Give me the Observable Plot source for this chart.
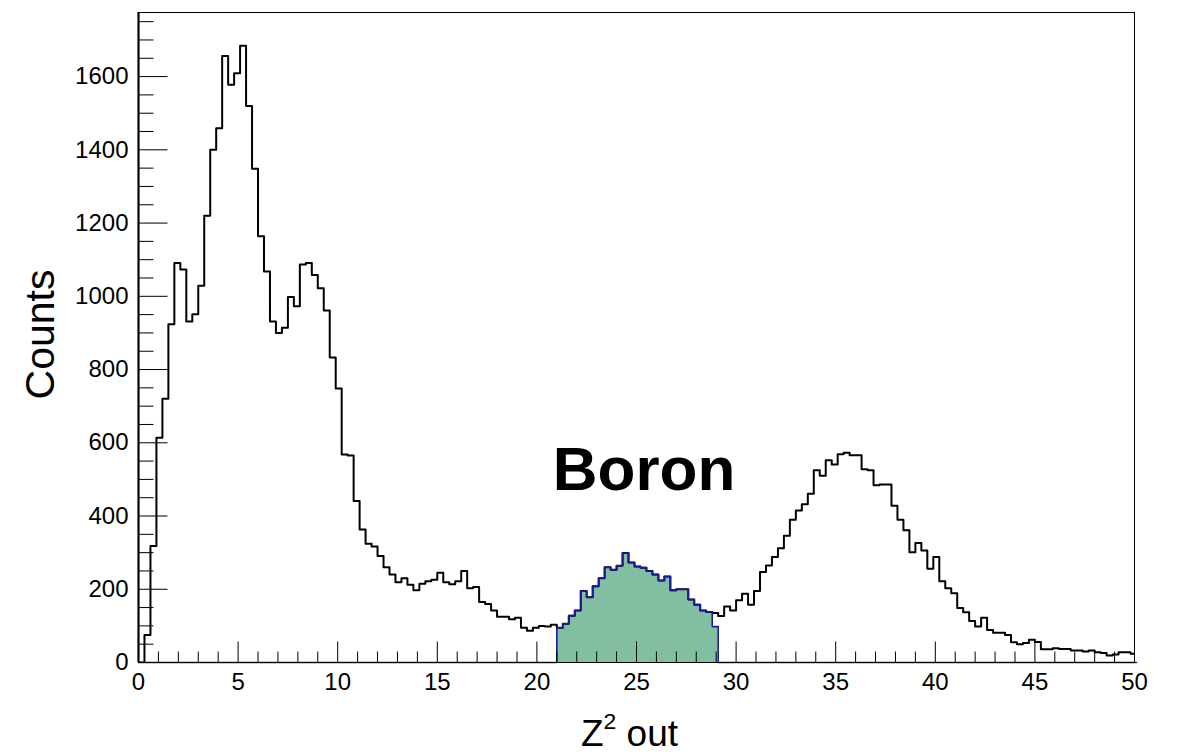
<!DOCTYPE html>
<html>
<head>
<meta charset="utf-8">
<script src="https://cdn.jsdelivr.net/npm/d3@7"></script>
<script src="https://cdn.jsdelivr.net/npm/@observablehq/plot@0.6"></script>
<style>
  html, body { margin: 0; padding: 0; background: #fff; }
  #chart { width: 1178px; height: 754px; }
</style>
</head>
<body>
<div id="chart"></div>
<script>
// Z² distribution of outgoing fragments, 0.3-wide bins starting at 0
const binWidth = 0.3;
const counts = [
  0, 75, 318, 614, 720, 924, 1091, 1073, 931, 951,
  1029, 1220, 1400, 1459, 1656, 1578, 1609, 1684, 1520, 1348,
  1164, 1068, 931, 900, 914, 998, 973, 1087, 1091, 1058,
  1022, 961, 833, 748, 568, 565, 441, 363, 324, 317,
  291, 260, 240, 219, 230, 212, 197, 215, 222, 226,
  245, 219, 214, 222, 250, 203, 206, 165, 160, 142,
  125, 125, 118, 122, 95, 87, 95, 100, 98, 103,
  95, 106, 128, 142, 195, 178, 208, 230, 260, 253,
  264, 299, 273, 262, 259, 250, 240, 224, 235, 197,
  200, 200, 172, 158, 142, 138, 135, 127, 153, 142,
  170, 188, 158, 195, 247, 265, 288, 312, 346, 390,
  415, 432, 461, 525, 510, 552, 541, 569, 573, 566,
  566, 528, 525, 484, 486, 486, 428, 390, 361, 301,
  326, 306, 256, 288, 222, 203, 189, 149, 137, 113,
  98, 122, 89, 81, 81, 75, 55, 50, 53, 62,
  56, 36, 36, 39, 37, 37, 33, 33, 30, 33,
  28, 26, 19, 22, 28, 28, 24
];

// Boron selection window: bins 70..96 (Z² from 21.0 to 29.1)
const boronFirstBin = 70;
const boronCounts = [
  95, 106, 128, 142, 195, 178, 208, 230, 260, 253,
  264, 299, 273, 262, 259, 250, 240, 224, 235, 197,
  200, 200, 172, 158, 142, 138, 98
];

const xMajorTicks = [0, 5, 10, 15, 20, 25, 30, 35, 40, 45, 50];
const xMinorTicks = [1, 2, 3, 4, 6, 7, 8, 9, 11, 12, 13, 14, 16, 17, 18, 19,
  21, 22, 23, 24, 26, 27, 28, 29, 31, 32, 33, 34, 36, 37, 38, 39,
  41, 42, 43, 44, 46, 47, 48, 49];
const yMajorTicks = [0, 200, 400, 600, 800, 1000, 1200, 1400, 1600];
const yMinorTicks = [50, 100, 150, 250, 300, 350, 450, 500, 550, 650, 700, 750,
  850, 900, 950, 1050, 1100, 1150, 1250, 1300, 1350, 1450, 1500, 1550,
  1650, 1700, 1750];

// axis title pieces: base, superscript, rest
const xTitleParts = ["Z", "2", " out"];
const yTitle = "Counts";
const tagText = "Boron";
const tagAt = {x: 20.8, y: 470};

// step outline points: one per bin lower edge, plus the closing upper edge
const stepPoints = (vals) => {
  const pts = vals.map((v, i) => ({x: i * binWidth, y: v}));
  pts.push({x: vals.length * binWidth, y: vals[vals.length - 1]});
  return pts;
};

const boronFull = counts.map((_, i) => {
  const j = i - boronFirstBin;
  return j >= 0 && j < boronCounts.length ? boronCounts[j] : 0;
});

const allPts = stepPoints(counts);
const boronPts = stepPoints(boronFull);

// inward-pointing tick marks drawn as custom dot symbols
const spike = (dx, dy) => ({draw(ctx) { ctx.moveTo(0, 0); ctx.lineTo(dx, dy); }});

const font = "'Liberation Sans', Arial, Helvetica, sans-serif";

const chart = Plot.plot({
  width: 1178,
  height: 754,
  marginLeft: 138,
  marginRight: 44,
  marginTop: 12,
  marginBottom: 92,
  style: {fontFamily: font, background: "#fff", overflow: "visible"},
  x: {domain: [0, 50]},
  y: {domain: [0, 1775]},
  marks: [
    Plot.areaY(boronPts, {x: "x", y: "y", curve: "step-after", fill: "#82bfa2", clip: true}),
    Plot.line(allPts, {x: "x", y: "y", curve: "step-after", stroke: "#000", strokeWidth: 2, clip: true}),
    Plot.line(boronPts, {x: "x", y: "y", curve: "step-after", stroke: "#1c1c96", strokeWidth: 1.6}),
    Plot.frame({stroke: "#000", strokeWidth: 1}),
    Plot.ruleX([0], {stroke: "#000", strokeWidth: 2.2}),
    Plot.dot(xMajorTicks, {x: d => d, y: 0, symbol: spike(0, -21), stroke: "#000", fill: "none", strokeWidth: 1}),
    Plot.dot(xMinorTicks, {x: d => d, y: 0, symbol: spike(0, -11), stroke: "#000", fill: "none", strokeWidth: 1}),
    Plot.dot(yMajorTicks, {x: 0, y: d => d, symbol: spike(29, 0), stroke: "#000", fill: "none", strokeWidth: 1}),
    Plot.dot(yMinorTicks, {x: 0, y: d => d, symbol: spike(15, 0), stroke: "#000", fill: "none", strokeWidth: 1}),
    Plot.axisX({ticks: xMajorTicks, tickSize: 0, tickPadding: 10, fontSize: 24, tickFormat: d => String(d), label: null, fill: "#000"}),
    Plot.axisY({ticks: yMajorTicks, tickSize: 0, tickPadding: 10, fontSize: 24, tickFormat: d => String(d), label: null, fill: "#000"}),
    Plot.text([yTitle], {text: d => d, frameAnchor: "left", textAnchor: "middle", lineAnchor: "middle", dx: -98, dy: -3, rotate: -90, fontSize: 41, fill: "#000"}),
    Plot.text([xTitleParts.join("")], {text: d => d, frameAnchor: "bottom", textAnchor: "middle", lineAnchor: "middle", dx: -7, dy: 72, fontSize: 37, fill: "#000", className: "xtitle"}),
    Plot.text([tagAt], {x: "x", y: "y", text: () => tagText, textAnchor: "start", lineAnchor: "bottom", fontSize: 62, fontWeight: "bold", fill: "#000"})
  ]
});

// rebuild the x title with a raised, smaller exponent
d3.select(chart).selectAll("g.xtitle text").each(function () {
  const t = d3.select(this);
  t.text(null);
  t.append("tspan").text(xTitleParts[0]);
  t.append("tspan").attr("font-size", "0.62em").attr("dy", "-0.75em").text(xTitleParts[1]);
  t.append("tspan").attr("dy", "0.465em").text(xTitleParts[2]);
});

document.getElementById("chart").appendChild(chart);
</script>
</body>
</html>
